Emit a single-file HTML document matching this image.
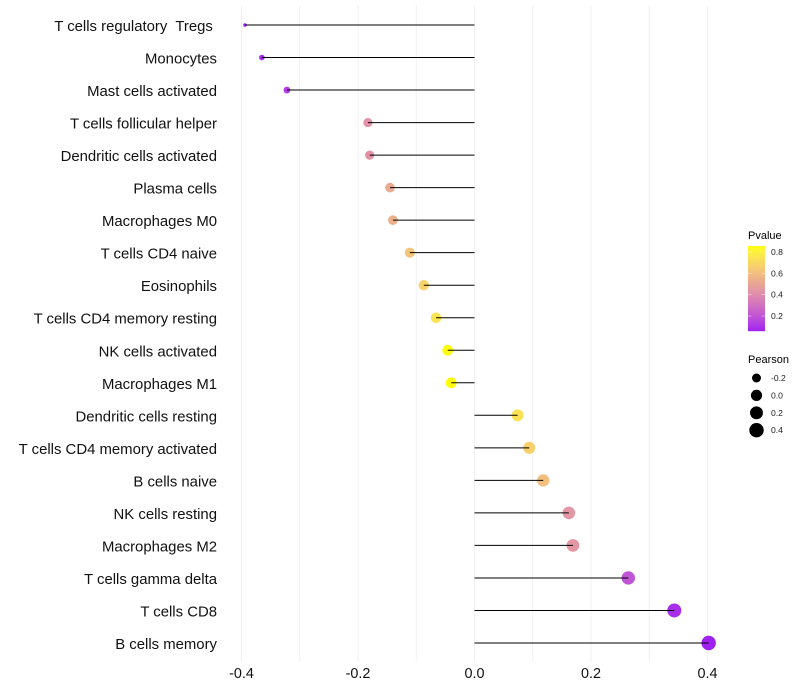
<!DOCTYPE html>
<html>
<head>
<meta charset="utf-8">
<title>Immune cell correlation lollipop chart</title>
<style>
html,body{margin:0;padding:0;background:#fff;}
svg{display:block;font-family:"Liberation Sans",sans-serif;}
</style>
</head>
<body>
<svg id="chart" xmlns="http://www.w3.org/2000/svg" width="800" height="700" viewBox="0 0 800 700">
  <rect x="0" y="0" width="800" height="700" fill="#ffffff"/>
  <g id="grid"></g>
  <g id="lines"></g>
  <g id="points"></g>
  <g id="ylabels"></g>
  <g id="xlabels"></g>
  <g id="pvalue-legend">
    <text x="748" y="239" font-size="11" fill="#000">Pvalue</text>
  </g>
  <g id="pearson-legend">
    <text x="748" y="363" font-size="11" fill="#000">Pearson</text>
  </g>
</svg>
<script>
const categories = ["T cells regulatory  Tregs ","Monocytes","Mast cells activated","T cells follicular helper","Dendritic cells activated","Plasma cells","Macrophages M0","T cells CD4 naive","Eosinophils","T cells CD4 memory resting","NK cells activated","Macrophages M1","Dendritic cells resting","T cells CD4 memory activated","B cells naive","NK cells resting","Macrophages M2","T cells gamma delta","T cells CD8","B cells memory"];
const pearson = [-0.394,-0.365,-0.322,-0.183,-0.18,-0.145,-0.14,-0.111,-0.087,-0.066,-0.046,-0.04,0.074,0.094,0.118,0.162,0.169,0.264,0.343,0.402];
const pvalue = [0.07,0.09,0.13,0.42,0.43,0.52,0.54,0.62,0.68,0.75,0.85,0.85,0.74,0.67,0.6,0.44,0.44,0.2,0.09,0.06];
const xTicks = [-0.4,-0.2,0,0.2,0.4];
const xGrid = [-0.4,-0.3,-0.2,-0.1,0,0.1,0.2,0.3,0.4];
const pvalueTicks = [0.8,0.6,0.4,0.2];
const pearsonTicks = [-0.2,0,0.2,0.4];

const NS = "http://www.w3.org/2000/svg";
const xScale = v => 474.5 + v * 582.5;
const yScale = i => 25 + i * 32.526;
const pMin = 0.06, pMax = 0.856;
const legY = p => 246 + (pMax - p) / (pMax - pMin) * 85;

const rMin = 1.8, rMax = 7.2;
const pearMin = Math.min(...pearson), pearMax = Math.max(...pearson);
const sizeScale = v => rMin + (rMax - rMin) * Math.sqrt(Math.max(0, (v - pearMin) / (pearMax - pearMin)));

function rgb2lab(c){
  const f = u => { u /= 255; return u > 0.04045 ? Math.pow((u + 0.055) / 1.055, 2.4) : u / 12.92; };
  const r = f(c[0]), g = f(c[1]), b = f(c[2]);
  const X = (0.4124 * r + 0.3576 * g + 0.1805 * b) / 0.95047;
  const Y = 0.2126 * r + 0.7152 * g + 0.0722 * b;
  const Z = (0.0193 * r + 0.1192 * g + 0.9505 * b) / 1.08883;
  const h = t => t > 0.008856 ? Math.cbrt(t) : 7.787 * t + 16 / 116;
  return [116 * h(Y) - 16, 500 * (h(X) - h(Y)), 200 * (h(Y) - h(Z))];
}
function lab2rgb(l){
  const fy = (l[0] + 16) / 116, fx = l[1] / 500 + fy, fz = fy - l[2] / 200;
  const h = t => t * t * t > 0.008856 ? t * t * t : (t - 16 / 116) / 7.787;
  const X = h(fx) * 0.95047, Y = h(fy), Z = h(fz) * 1.08883;
  const g = u => { u = u > 0.0031308 ? 1.055 * Math.pow(u, 1 / 2.4) - 0.055 : 12.92 * u; return Math.round(Math.min(1, Math.max(0, u)) * 255); };
  return "rgb(" + g(3.2406 * X - 1.5372 * Y - 0.4986 * Z) + "," + g(-0.9689 * X + 1.8758 * Y + 0.0415 * Z) + "," + g(0.0557 * X - 0.204 * Y + 1.057 * Z) + ")";
}
const labLow = rgb2lab([160, 32, 240]);
const labHigh = rgb2lab([255, 255, 0]);
function colorScale(p){
  const t = Math.min(1, Math.max(0, (p - pMin) / (pMax - pMin)));
  return lab2rgb(labLow.map((v, i) => v + (labHigh[i] - v) * t));
}
function make(tag, attrs, parent, text){
  const el = document.createElementNS(NS, tag);
  for (const k in attrs) el.setAttribute(k, attrs[k]);
  if (text !== undefined) el.textContent = text;
  parent.appendChild(el);
  return el;
}
const gridG = document.getElementById("grid");
const linesG = document.getElementById("lines");
const pointsG = document.getElementById("points");
const yG = document.getElementById("ylabels");
const xG = document.getElementById("xlabels");
const pLeg = document.getElementById("pvalue-legend");
const sLeg = document.getElementById("pearson-legend");

xGrid.forEach(v => {
  const el = make("line", {x1: xScale(v), x2: xScale(v), y1: 5, y2: 661, stroke: "#f1f1f1", "stroke-width": 1}, gridG);
  
  
});

categories.forEach((c, i) => {
  const y = yScale(i);
  const pt = make("circle", {cx: xScale(pearson[i]), cy: y, r: sizeScale(pearson[i]), fill: colorScale(pvalue[i])}, pointsG);
  
  
  const ln = make("line", {x1: xScale(0), x2: xScale(pearson[i]), y1: y, y2: y, stroke: "#000", "stroke-width": 1}, linesG);
  
  
  const lb = make("text", {x: 217, y: y + 6, "text-anchor": "end", "font-size": 14.9, fill: "#111", "xml:space": "preserve", style: "white-space:pre"}, yG, c);
  
  
});
document.getElementById("chart").appendChild(linesG);

xTicks.forEach(v => {
  const t = make("text", {x: xScale(v), y: 678, "text-anchor": "middle", "font-size": 14.4, fill: "#111"}, xG, v.toFixed(1));
  
  
});

for (let k = 0; k < 85; k++) {
  const p = pMax - (k + 0.5) / 85 * (pMax - pMin);
  const r = make("rect", {x: 748, y: 246 + k, width: 17, height: 1.2, fill: colorScale(p)}, pLeg);
  
  
}
pvalueTicks.forEach(p => {
  const y = legY(p);
  const a = make("line", {x1: 748, x2: 751.4, y1: y, y2: y, stroke: "#fff", "stroke-opacity": 0.7, "stroke-width": 0.6}, pLeg);
  
  
  const b = make("line", {x1: 761.6, x2: 765, y1: y, y2: y, stroke: "#fff", "stroke-opacity": 0.7, "stroke-width": 0.6}, pLeg);
  
  
  const t = make("text", {x: 771, y: y + 3, "font-size": 8.6, fill: "#222"}, pLeg, p.toFixed(1));
  
  
});

pearsonTicks.forEach((v, i) => {
  const y = 378 + i * 17.4;
  const c = make("circle", {cx: 756.5, cy: y, r: sizeScale(v), fill: "#000"}, sLeg);
  
  
  const t = make("text", {x: 771, y: y + 3, "font-size": 8.6, fill: "#222"}, sLeg, v.toFixed(1));
  
  
});
</script>
</body>
</html>
